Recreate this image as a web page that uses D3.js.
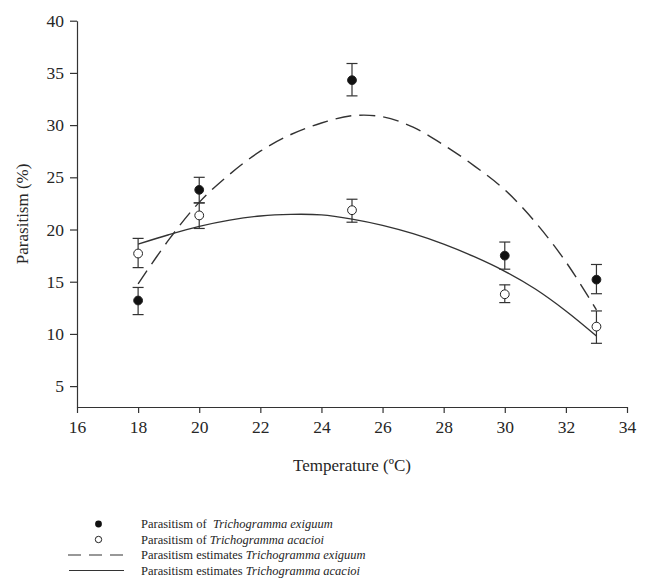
<!DOCTYPE html>
<html>
<head>
<meta charset="utf-8">
<script src="https://cdn.jsdelivr.net/npm/d3@7"></script>
<style>
  body { margin: 0; background: #fff; }
  svg text { font-family: "Liberation Serif", Tinos, "DejaVu Serif", serif !important; fill: #262626; }
  .axis path, .axis line { stroke: #333; stroke-width: 1.2; }
  .axis text { font-size: 17.5px; }
</style>
</head>
<body>
<div id="chart"></div>
<script>
var svgWidth = 648;
var svgHeight = 579;

var margin = { top: 20.7, right: 21, bottom: 172, left: 77 };

var width = svgWidth - margin.left - margin.right;
var height = svgHeight - margin.top - margin.bottom;

var temps = [18, 20, 25, 30, 33];
var exiguumMean = [13.2, 23.8, 34.3, 17.5, 15.2];
var exiguumHigh = [14.45, 25.0, 35.9, 18.8, 16.65];
var exiguumLow = [11.85, 22.55, 32.8, 16.2, 13.85];
var acacioiMean = [17.7, 21.35, 21.85, 13.8, 10.7];
var acacioiHigh = [19.15, 22.55, 22.9, 14.7, 12.2];
var acacioiLow = [16.35, 20.1, 20.7, 13.0, 9.1];

// Fitted estimate curves
var curveTemps = [18, 19, 20, 21, 22, 23, 24, 25, 26, 27, 28, 29, 30, 31, 32, 33];
var exiguumFit = [14.8, 19.0, 22.6, 25.3, 27.5, 29.1, 30.2, 30.9, 30.8, 29.8, 28.1, 26.1, 23.8, 20.7, 16.9, 12.3];
var acacioiFit = [18.6, 19.5, 20.3, 20.9, 21.3, 21.45, 21.4, 21.0, 20.4, 19.6, 18.6, 17.4, 16.0, 14.3, 12.2, 9.8];

var xTicks = [16, 18, 20, 22, 24, 26, 28, 30, 32, 34];
var yTicks = [5, 10, 15, 20, 25, 30, 35, 40];

var legendLabels = [
  ["Parasitism of\u00a0 ", "Trichogramma exiguum"],
  ["Parasitism of ", "Trichogramma acacioi"],
  ["Parasitism estimates ", "Trichogramma exiguum"],
  ["Parasitism estimates ", "Trichogramma acacioi"]
];

var serif = "'Liberation Serif', Tinos, 'DejaVu Serif', serif";

var svg = d3.select("#chart")
  .append("svg")
  .attr("width", svgWidth)
  .attr("height", svgHeight)
  .attr("font-family", serif);

var chartGroup = svg.append("g")
  .attr("transform", `translate(${margin.left}, ${margin.top})`);

var xScale = d3.scaleLinear().domain([16, 34]).range([0, width]);
var yScale = d3.scaleLinear().domain([3, 40]).range([height, 0]);

// axes
chartGroup.append("g")
  .attr("class", "axis")
  .attr("transform", `translate(0, ${height})`)
  .call(d3.axisBottom(xScale).tickValues(xTicks).tickSize(6).tickPadding(8).tickSizeOuter(0))
  .attr("font-family", serif)
  .selectAll("text").attr("fill", "#262626");

chartGroup.append("g")
  .attr("class", "axis")
  .call(d3.axisLeft(yScale).tickValues(yTicks).tickSize(7).tickPadding(6).tickSizeOuter(0))
  .attr("font-family", serif)
  .selectAll("text").attr("fill", "#262626");

// axis titles
chartGroup.append("text")
  .attr("x", width / 2)
  .attr("y", height + 64)
  .attr("text-anchor", "middle")
  .attr("font-size", "17px")
  .text("Temperature (ºC)");

chartGroup.append("text")
  .attr("transform", "rotate(-90)")
  .attr("x", -height / 2)
  .attr("y", -49)
  .attr("text-anchor", "middle")
  .attr("font-size", "17px")
  .text("Parasitism (%)");

// fitted curves
var line = d3.line()
  .x(d => xScale(d[0]))
  .y(d => yScale(d[1]))
  .curve(d3.curveCatmullRom);

chartGroup.append("path")
  .datum(d3.zip(curveTemps, exiguumFit))
  .attr("d", line)
  .attr("fill", "none")
  .attr("stroke", "#333")
  .attr("stroke-width", 1.4)
  .attr("stroke-dasharray", "16,8");

chartGroup.append("path")
  .datum(d3.zip(curveTemps, acacioiFit))
  .attr("d", line)
  .attr("fill", "none")
  .attr("stroke", "#333")
  .attr("stroke-width", 1.4);

// error bars + points
function drawSeries(means, highs, lows, filled) {
  var data = temps.map((t, i) => ({ t: t, m: means[i], hi: highs[i], lo: lows[i] }));
  var g = chartGroup.append("g");
  var capW = 5.5;

  g.selectAll(".stem").data(data).enter().append("line")
    .attr("x1", d => xScale(d.t)).attr("x2", d => xScale(d.t))
    .attr("y1", d => yScale(d.hi)).attr("y2", d => yScale(d.lo))
    .attr("stroke", "#333").attr("stroke-width", 1.2);

  g.selectAll(".capHi").data(data).enter().append("line")
    .attr("x1", d => xScale(d.t) - capW).attr("x2", d => xScale(d.t) + capW)
    .attr("y1", d => yScale(d.hi)).attr("y2", d => yScale(d.hi))
    .attr("stroke", "#333").attr("stroke-width", 1.2);

  g.selectAll(".capLo").data(data).enter().append("line")
    .attr("x1", d => xScale(d.t) - capW).attr("x2", d => xScale(d.t) + capW)
    .attr("y1", d => yScale(d.lo)).attr("y2", d => yScale(d.lo))
    .attr("stroke", "#333").attr("stroke-width", 1.2);

  g.selectAll("circle").data(data).enter().append("circle")
    .attr("cx", d => xScale(d.t))
    .attr("cy", d => yScale(d.m))
    .attr("r", 4.4)
    .attr("fill", filled ? "#111" : "#fff")
    .attr("stroke", "#222")
    .attr("stroke-width", 1);
}

drawSeries(exiguumMean, exiguumHigh, exiguumLow, true);
drawSeries(acacioiMean, acacioiHigh, acacioiLow, false);

// legend
var legend = svg.append("g");
var rowY = [524, 539.5, 555, 570.5];

legend.append("circle").attr("cx", 98.5).attr("cy", rowY[0]).attr("r", 3.4).attr("fill", "#111");
legend.append("circle").attr("cx", 98.5).attr("cy", rowY[1]).attr("r", 3.2)
  .attr("fill", "#fff").attr("stroke", "#222").attr("stroke-width", 1);
legend.append("line").attr("x1", 68).attr("x2", 123).attr("y1", rowY[2]).attr("y2", rowY[2])
  .attr("stroke", "#333").attr("stroke-width", 1.2).attr("stroke-dasharray", "13,8");
legend.append("line").attr("x1", 69).attr("x2", 124).attr("y1", rowY[3]).attr("y2", rowY[3])
  .attr("stroke", "#333").attr("stroke-width", 1.2);

legendLabels.forEach(function(lbl, i) {
  var t = legend.append("text")
    .attr("x", 141)
    .attr("y", rowY[i] + 4.3)
    .attr("font-size", "12.5px");
  t.append("tspan").text(lbl[0]);
  t.append("tspan").attr("font-style", "italic").text(lbl[1]);
});
</script>
</body>
</html>
